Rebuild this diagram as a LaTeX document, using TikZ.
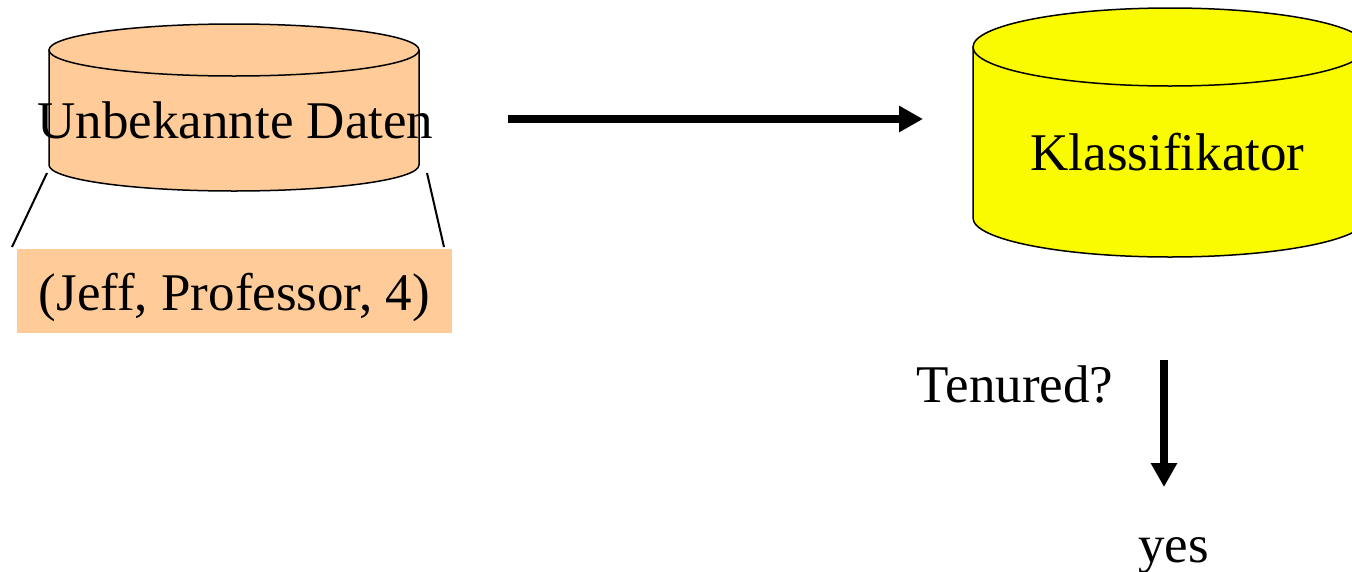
\documentclass[tikz,border=0pt]{standalone}
\usepackage{fontspec}
\setmainfont{Liberation Serif}
\usetikzlibrary{arrows.meta}
\definecolor{peach}{RGB}{255,204,153}
\definecolor{yel}{RGB}{250,250,0}
\tikzset{
  lbl/.style={font=\fontsize{53}{60}\selectfont, inner sep=0pt, anchor=base},
  cyl/.style={draw=black, line width=1.5pt},
  thin/.style={line width=2pt},
  bigarrow/.style={line width=8pt, -{Triangle[length=24pt,width=25pt]}}
}
\begin{document}
\begin{tikzpicture}[x=1pt,y=1pt]
\clip (0,0) rectangle (1352,-571);
\useasboundingbox (0,0) rectangle (1352,-571);
% cylinder 1
\fill[peach] (49,-50) -- (49,-165) arc[start angle=180,end angle=360,x radius=185,y radius=26] -- (419,-50) -- cycle;
\draw[cyl] (49,-50) -- (49,-165) arc[start angle=180,end angle=360,x radius=185,y radius=26] -- (419,-50);
\filldraw[cyl, fill=peach] (234,-50) ellipse[x radius=185, y radius=26];
\node[lbl] (data) at (235.5,-138) {Unbekannte Daten};
% cylinder 2
\fill[yel] (973,-47) -- (973,-218) arc[start angle=180,end angle=360,x radius=197,y radius=39] -- (1367,-47) -- cycle;
\draw[cyl] (973,-47) -- (973,-218) arc[start angle=180,end angle=360,x radius=197,y radius=39] -- (1367,-47);
\filldraw[cyl, fill=yel] (1170,-47) ellipse[x radius=197, y radius=39];
\node[lbl] (klass) at (1167.5,-170) {Klassifikator};
% tuple box
\node[fill=peach, minimum width=435pt, minimum height=84pt, inner sep=0pt,
      font=\fontsize{53}{60}\selectfont, text height=44pt, text depth=6pt] (tuple) at (234.5,-291) {(Jeff, Professor, 4)};
% zoom lines
\coordinate (l1) at (47,-173);
\coordinate (l2) at (12,-247);
\coordinate (r1) at (427,-173);
\coordinate (r2) at (444,-247);
\draw[thin] (l1) -- (l2);
\draw[thin] (r1) -- (r2);
% arrows
\coordinate (a1) at (508,-119);
\coordinate (a2) at (923,-119);
\draw[bigarrow] (a1) -- (a2);
\coordinate (b1) at (1164,-360);
\coordinate (b2) at (1164,-487);
\draw[bigarrow] (b1) -- (b2);
\node[lbl] (ten) at (1015,-402) {Tenured?};
\node[lbl] (yes) at (1173.5,-562) {yes};
\end{tikzpicture}
\end{document}
